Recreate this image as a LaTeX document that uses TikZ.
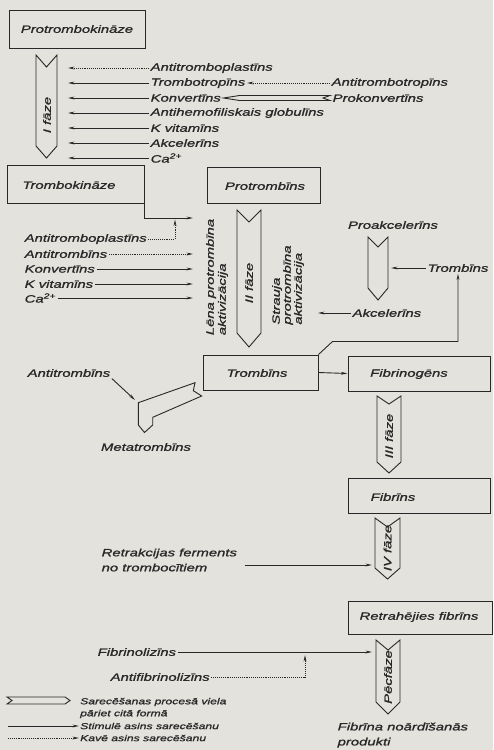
\documentclass[tikz,border=0pt]{standalone}
\usepackage{fontspec}
\newfontfamily\lf[FakeStretch=1.4,FakeBold=1.2]{Liberation Sans}
\usetikzlibrary{arrows.meta,calc}
\definecolor{paper}{RGB}{228,226,220}
\definecolor{ink}{RGB}{40,40,40}
\newcommand\vconv[6]{\draw[conv] (#1,#3) -- ({(#1+#2)/2},#4) -- (#2,#3) -- (#2,#5) -- ({(#1+#2)/2},#6) -- (#1,#5) -- cycle;}
\begin{document}
\begin{tikzpicture}[x=1pt,y=-1pt,
  lbl/.style={font=\lf\itshape\fontsize{10.6}{12}\selectfont, text=ink, inner sep=1.5pt},
  smalltxt/.style={font=\lf\itshape\fontsize{8.7}{10}\selectfont, text=ink, inner sep=1pt, anchor=west},
  box/.style={draw=ink, line width=1pt, rectangle, inner sep=0pt},
  stim/.style={draw=ink, line width=0.9pt, -{Stealth[length=6.5pt,width=2.8pt]}},
  inhib/.style={stim, densely dotted},
  conv/.style={draw=ink, line width=0.9pt, fill=paper, line join=miter}]
\fill[paper] (0,0) rectangle (493,750);
\useasboundingbox (0,0) rectangle (493,750);

% ---------- boxes ----------
\node[box, lbl, minimum width=136pt, minimum height=38pt] (ptk) at (77,29) {Protrombokināze};
\node[box, minimum width=137pt, minimum height=38pt] (tk) at (75.5,184) {};
\node[lbl] (tkt) at (69,185) {Trombokināze};
\node[box, minimum width=113pt, minimum height=36pt] (ptb) at (263.5,185) {};
\node[lbl] (ptbt) at (265,186) {Protrombīns};
\node[box, minimum width=115pt, minimum height=35pt] (trb) at (260.5,372.5) {};
\node[lbl] (trbt) at (257,373) {Trombīns};
\node[box, minimum width=142pt, minimum height=35pt] (fbg) at (419,373.5) {};
\node[lbl] (fbgt) at (409,374) {Fibrinogēns};
\node[box, minimum width=142pt, minimum height=35pt] (fib) at (419,495.5) {};
\node[lbl] (fibt) at (393,497) {Fibrīns};
\node[box, minimum width=144pt, minimum height=33pt] (rfib) at (420,617.5) {};
\node[lbl] (rfibt) at (419,617) {Retrahējies fibrīns};

% ---------- I faze ----------
\vconv{36}{57}{55}{67}{146}{158}
\node[lbl, rotate=90] (f1) at (47,115) {I fāze};
\coordinate (f1in) at (68,0);
\node[lbl, anchor=west] (atp1) at (149,68) {Antitromboplastīns};
\node[lbl, anchor=west] (trt) at (149,83) {Trombotropīns};
\node[lbl, anchor=west] (kv1) at (149,98) {Konvertīns};
\node[lbl, anchor=west] (ahg) at (149,113) {Antihemofiliskais globulīns};
\node[lbl, anchor=west] (kvit1) at (149,128) {K vitamīns};
\node[lbl, anchor=west] (akc1) at (149,143) {Akcelerīns};
\node[lbl, anchor=west] (ca1) at (149,158) {Ca\textsuperscript{2+}};
\draw[inhib] (atp1.west) -- (atp1.west -| f1in);
\foreach \n in {trt,kv1,ahg,kvit1,akc1,ca1} \draw[stim] (\n.west) -- (\n.west -| f1in);
\node[lbl, anchor=west] (atbt) at (330,83) {Antitrombotropīns};
\node[lbl, anchor=west] (pkv) at (331,98) {Prokonvertīns};
\draw[inhib] (atbt.west) -- (trt.east);
\draw[conv] ($(kv1.east)+(1,0)$) -- ++(16,-2.5) -- ($(pkv.west)+(-1,-2.5)$) -- ++(-7,2.5) -- ++(7,2.5) -- ($(kv1.east)+(17,2.5)$) -- cycle;

% ---------- slow activation ----------
\coordinate (tkArr) at (193,218);
\coordinate (tkUp) at (175,219.5);
\coordinate (lenaIn) at (193,0);
\draw[stim] (tk.south east) |- (tkArr);
\node[lbl, anchor=west] (atp2) at (23,239) {Antitromboplastīns};
\node[lbl, anchor=west] (atb1) at (23,254) {Antitrombīns};
\node[lbl, anchor=west] (kv2) at (23,269) {Konvertīns};
\node[lbl, anchor=west] (kvit2) at (23,284) {K vitamīns};
\node[lbl, anchor=west] (ca2) at (23,298) {Ca\textsuperscript{2+}};
\draw[inhib] (atp2.east) -| (tkUp);
\draw[inhib] (atb1.east) -- (atb1.east -| lenaIn);
\foreach \n in {kv2,kvit2,ca2} \draw[stim] (\n.east) -- (\n.east -| lenaIn);
\node[lbl, rotate=90, align=left] (lena) at (217,277) {Lēna protrombīna\\aktivizācija};

% ---------- II faze ----------
\vconv{237}{261}{210}{222}{333}{347}
\node[lbl, rotate=90] (f2) at (249,283) {II fāze};
\node[lbl, rotate=90, align=left, font=\lf\itshape\fontsize{10.6}{11}\selectfont] (strauja) at (288,285) {Strauja\\protrombīna\\aktivizācija};
\node[lbl] (pakc) at (393,225) {Proakcelerīns};
\vconv{368}{388}{237}{247}{288}{300}
\node[lbl] (trR) at (458,268) {Trombīns};
\coordinate (pakR) at (391,0);
\draw[stim] (trR.west) -- (trR.west -| pakR);
\node[lbl, anchor=west] (akc2) at (351,313) {Akcelerīns};
\coordinate (strIn) at (318,0);
\draw[stim] (akc2.west) -- (akc2.west -| strIn);
\draw[stim] (trb.north east) -- ++(14,-13) -| (trR.south);
\draw[stim] (trb.east) -- (fbg.west);

% ---------- metatrombin ----------
\draw[conv] (138.3,402.7) -- (195,382.7) -- (193.3,390.7) -- (201.7,396) -- (152.7,417.3) -- (152.7,425) -- (144.5,432.5) -- (138.3,425) -- cycle;
\node[lbl, anchor=west] (atb2) at (26,373) {Antitrombīns};
\coordinate (metaIn) at (135,400);
\draw[stim] (atb2.south east) -- (metaIn);
\node[lbl] (meta) at (146,447) {Metatrombīns};

% ---------- III, IV, post ----------
\vconv{377}{401}{396}{404}{462}{473}
\node[lbl, rotate=90] (f3) at (389,436) {III fāze};
\vconv{375}{400}{518}{527}{568}{579}
\node[lbl, rotate=90] (f4) at (387.5,548) {IV fāze};
\node[lbl, anchor=west, align=left, font=\lf\itshape\fontsize{10.6}{15}\selectfont] (retr) at (100,560) {Retrakcijas ferments\\no trombocītiem};
\coordinate (f4in) at (372,565);
\draw[stim, shorten <=6pt] (retr.east |- f4in) -- (f4in);
\vconv{376}{400}{640}{650}{702}{714}
\node[lbl, rotate=90] (f5) at (388,677) {Pēcfāze};
\node[lbl, anchor=west] (fbl) at (96,652) {Fibrinolizīns};
\coordinate (pcIn) at (372,652);
\draw[stim] (fbl.east) -- (pcIn);
\node[lbl, anchor=west] (afbl) at (109,677) {Antifibrinolizīns};
\coordinate (fblUp) at (305,655);
\draw[inhib] (afbl.east) -| (fblUp);
\node[lbl, anchor=north west, align=left, font=\lf\itshape\fontsize{10.6}{15}\selectfont] (prod) at (336,721) {Fibrīna noārdīšanās\\produkti};

% ---------- legend ----------
\draw[conv] (7,697) -- (65,697) -- (70,700.5) -- (65,704) -- (7,704) -- (12,700.5) -- cycle;
\node[smalltxt] (lg1) at (79,702) {Sarecēšanas procesā viela};
\node[smalltxt] (lg2) at (79,714) {pāriet citā formā};
\node[smalltxt] (lg3) at (79,726) {Stimulē asins sarecēšanu};
\node[smalltxt] (lg4) at (79,738) {Kavē asins sarecēšanu};
\coordinate (lgS) at (8,0);
\draw[stim] (lg3.west -| lgS) -- (lg3.west);
\draw[inhib] (lg4.west -| lgS) -- (lg4.west);
\end{tikzpicture}
\end{document}
